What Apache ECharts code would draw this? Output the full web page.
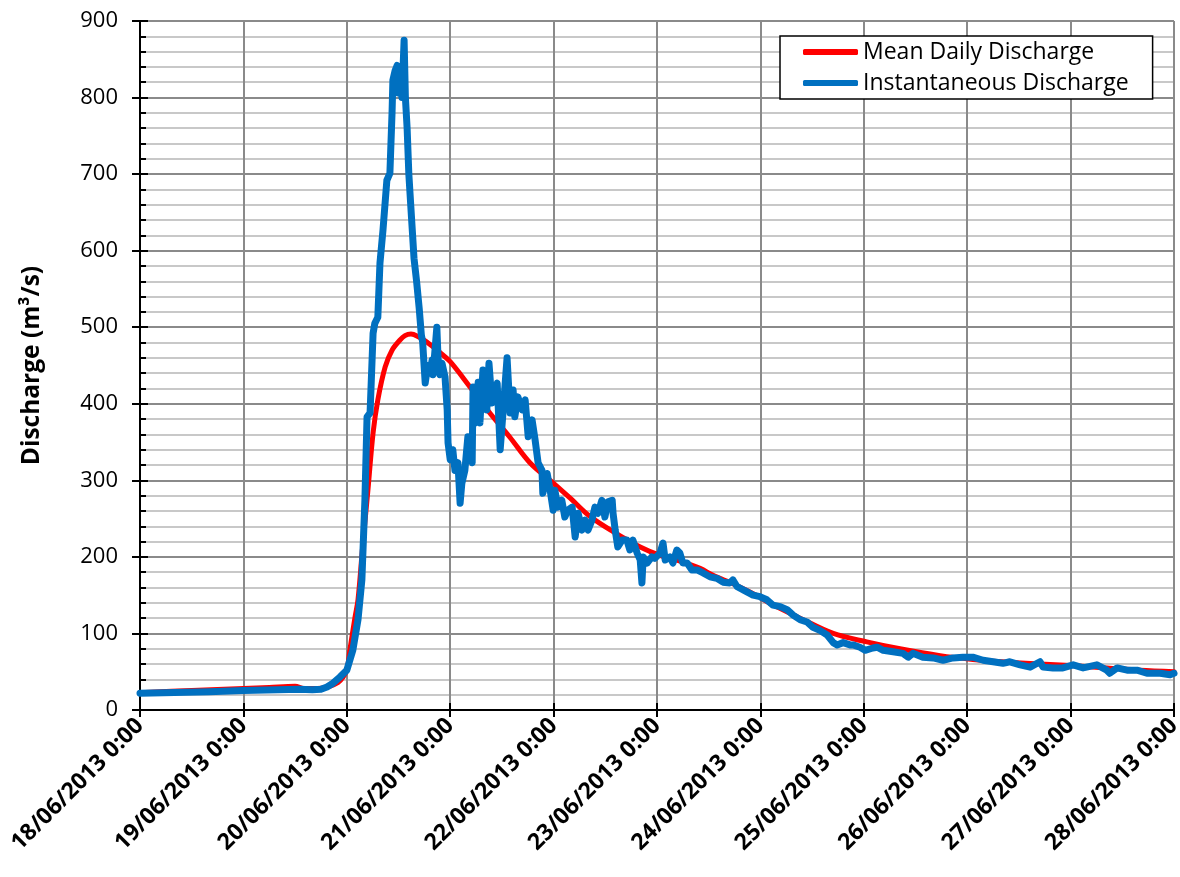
<!DOCTYPE html>
<html>
<head>
<meta charset="utf-8">
<script src="https://cdn.jsdelivr.net/npm/echarts@6/dist/echarts.min.js"></script>
<style>
  html, body { margin: 0; padding: 0; background: #fff; }
  #chart { width: 1180px; height: 877px; }
</style>
</head>
<body>
<div id="chart"></div>
<script>
// Date labels for the daily ticks (one every 24 h)
const tickLabels = [
  '18/06/2013 0:00', '19/06/2013 0:00', '20/06/2013 0:00', '21/06/2013 0:00',
  '22/06/2013 0:00', '23/06/2013 0:00', '24/06/2013 0:00', '25/06/2013 0:00',
  '26/06/2013 0:00', '27/06/2013 0:00', '28/06/2013 0:00'
];

// [hours since 18/06/2013 0:00, discharge m³/s]
const meanDailyDischarge = [
  [0, 22.5], [12, 25.5], [24, 28], [30, 29.5], [36, 31], [38, 28], [42, 28.5], [44, 31],
  [46, 36], [47, 42], [48, 52], [48.7, 78], [49.9, 121], [50.6, 144], [51.7, 215],
  [52.9, 287], [54.1, 362], [55.2, 405], [56.9, 448], [58.5, 470], [60.3, 483],
  [61.5, 489], [62.9, 491], [64.5, 488], [66.5, 481], [69.6, 467], [72, 455],
  [76.6, 422], [81.2, 388], [85.9, 356], [90.5, 323], [95.2, 300], [99.8, 277],
  [104.4, 253], [109.8, 233], [116.1, 213], [120.7, 202], [125, 195], [130, 185],
  [133, 176], [138, 164], [143, 150], [146, 140], [153.2, 120], [160.9, 100],
  [168.7, 89], [176.4, 80], [185.7, 71], [193.3, 66], [200, 63], [208.9, 60],
  [216, 58], [224.4, 55], [232, 52], [240, 50]
];

const instantaneousDischarge = [
  [0, 22], [8, 23], [16, 24], [24, 25.5], [32, 26.3], [37, 27], [40, 26.5], [42, 27],
  [43.4, 30], [44.8, 35], [46.4, 43], [48, 52], [49.4, 78], [50.6, 118], [51.5, 170],
  [52.2, 274], [52.7, 383], [53.4, 388], [54.1, 492], [54.5, 505], [55.2, 513],
  [55.7, 584], [56.4, 627], [57.3, 692], [58, 701], [58.5, 780], [58.7, 823],
  [59.2, 835], [59.7, 842], [59.9, 806], [60.3, 832], [60.8, 800], [61.3, 875],
  [61.6, 800], [62, 760], [62.4, 700], [63, 645], [63.6, 590], [64.2, 560],
  [64.8, 525], [65.3, 490], [65.6, 481], [66.2, 427], [66.8, 450], [67.3, 440],
  [67.8, 457], [68, 438], [68.9, 500], [69.2, 457], [69.6, 438], [70.1, 453],
  [70.8, 435], [71.3, 392], [71.5, 349], [72, 327], [72.6, 340], [73.1, 313],
  [73.8, 323], [74.3, 270], [74.7, 296], [75.4, 313], [76.1, 357], [76.6, 330],
  [77.1, 323], [77.3, 422], [77.8, 375], [78.5, 428], [78.9, 375], [79.6, 444],
  [80.5, 392], [81, 453], [81.7, 401], [82.9, 427], [83.6, 340], [84.3, 392],
  [85.2, 460], [85.9, 388], [86.6, 418], [87, 383], [87.7, 409], [88.7, 392],
  [89.4, 405], [90.1, 357], [91, 379], [91.7, 353], [92.4, 323], [93.3, 313],
  [93.5, 283], [94.5, 309], [95.2, 287], [95.9, 261], [96.3, 287], [97, 265],
  [97.9, 274], [98.6, 252], [99.3, 261], [100.3, 265], [101, 226], [101.7, 257],
  [102.6, 235], [103.3, 248], [104, 235], [104.9, 248], [105.6, 265], [106.3, 257],
  [107.2, 274], [107.9, 252], [108.6, 272], [109.6, 274], [109.8, 257], [110.3, 235],
  [110.9, 213], [111.9, 222], [113, 222], [113.7, 209], [114.4, 222], [115.4, 205],
  [116.1, 196], [116.5, 166], [116.8, 200], [117.7, 192], [118.8, 200], [119.5, 198],
  [120.7, 205], [121.4, 218], [121.9, 196], [123, 200], [123.7, 192], [124.6, 209],
  [125.3, 205], [126, 192], [127, 192], [128.1, 183], [129.3, 183], [130.7, 179],
  [132.3, 174], [133.9, 172], [135.3, 167], [136.9, 166], [137.6, 170], [138.6, 161],
  [140, 157], [142.3, 150], [143.9, 148], [145.5, 144], [146.9, 137], [148.6, 135],
  [150.2, 131], [151.6, 124], [153.2, 118], [154.8, 115], [156.2, 108], [157.8, 104],
  [159.5, 98], [160.9, 88], [161.8, 85], [163.2, 88], [164.8, 85], [165.5, 85],
  [167.1, 82], [168.3, 78], [170.1, 81], [171.1, 82], [172.5, 78], [174.8, 76],
  [177.1, 74], [178.3, 69], [179.4, 74], [181.7, 69], [184.1, 68], [186.4, 65],
  [188.7, 68], [191, 69], [193.3, 69], [195.7, 65], [198, 63], [200.3, 61],
  [201.9, 63], [204.3, 59], [206.6, 56], [208.9, 63], [209.6, 56], [211.9, 55],
  [214.2, 55], [216.6, 59], [218.9, 55], [222.1, 59], [224.4, 52], [225.1, 48],
  [226.8, 55], [229.1, 52], [231.4, 52], [233.7, 48], [236.8, 48], [239.1, 46], [240, 48]
];

const FONT = 'Open Sans';
const chart = echarts.init(document.getElementById('chart'), null, { renderer: 'canvas' });

const xRange = { type: 'value', min: 0, max: 240, interval: 24, gridIndex: 0, position: 'bottom' };
const yRange = { type: 'value', min: 0, max: 900, interval: 100, gridIndex: 0, position: 'left' };

chart.setOption({
  animation: false,
  backgroundColor: '#fff',
  grid: { left: 140, right: 6, top: 21, bottom: 167, outerBoundsMode: 'none' },
  legend: {
    orient: 'vertical',
    left: 780, top: 36,
    backgroundColor: '#fff',
    borderColor: '#000', borderWidth: 1.5, borderRadius: 0,
    padding: [2, 24, 2, 23],
    itemWidth: 55, itemHeight: 6, itemGap: 3, itemTextGap: 4, icon: 'roundRect',
    textStyle: { fontFamily: FONT, fontSize: 23, color: '#000', lineHeight: 28 },
    data: ['Mean Daily Discharge', 'Instantaneous Discharge']
  },
  xAxis: [
    Object.assign({}, xRange, {
      axisLine: { show: true, onZero: false, lineStyle: { color: '#000', width: 2 } },
      axisTick: { show: true, inside: true, length: 7, lineStyle: { color: '#000', width: 2 } },
      axisLabel: {
        rotate: 45, margin: 12, fontFamily: FONT, fontWeight: 'bold', fontSize: 23, color: '#000',
        formatter: v => tickLabels[Math.round(v / 24)]
      },
      splitLine: { show: true, lineStyle: { color: '#8a8a8a', width: 2 } }
    }),
    Object.assign({}, xRange, {
      axisLine: { show: true, onZero: false, lineStyle: { color: '#000', width: 2 } },
      axisTick: { show: true, inside: false, length: 7, lineStyle: { color: '#000', width: 2 } },
      axisLabel: { show: false },
      splitLine: { show: false }
    })
  ],
  yAxis: [
    Object.assign({}, yRange, {
      name: 'Discharge (m³/s)',
      nameLocation: 'middle', nameGap: 95,
      nameTextStyle: { fontFamily: FONT, fontWeight: 'bold', fontSize: 24.5, color: '#000' },
      axisLine: { show: true, onZero: false, lineStyle: { color: '#000', width: 2 } },
      axisTick: { show: true, inside: true, length: 8, lineStyle: { color: '#000', width: 2 } },
      minorTick: { show: true, splitNumber: 5, length: 6, lineStyle: { color: '#000', width: 2 } },
      axisLabel: { margin: 22, fontFamily: FONT, fontSize: 22, color: '#000' },
      splitLine: { show: true, lineStyle: { color: '#8a8a8a', width: 2 } },
      minorSplitLine: { show: true, lineStyle: { color: '#c8c8c8', width: 2 } }
    }),
    Object.assign({}, yRange, {
      axisLine: { show: true, onZero: false, lineStyle: { color: '#000', width: 2 } },
      axisTick: { show: true, inside: false, length: 8, lineStyle: { color: '#000', width: 2 } },
      axisLabel: { show: false },
      splitLine: { show: false }
    })
  ],
  series: [
    {
      name: 'Mean Daily Discharge',
      type: 'line',
      xAxisIndex: 0, yAxisIndex: 0,
      data: meanDailyDischarge,
      smooth: 0.35,
      showSymbol: false, symbol: 'none',
      color: '#ff0000',
      lineStyle: { color: '#ff0000', width: 5, cap: 'round', join: 'round' },
      z: 2
    },
    {
      name: 'Instantaneous Discharge',
      type: 'line',
      xAxisIndex: 0, yAxisIndex: 0,
      data: instantaneousDischarge,
      showSymbol: false, symbol: 'none',
      color: '#0070c0',
      lineStyle: { color: '#0070c0', width: 7, cap: 'round', join: 'round' },
      z: 3
    }
  ]
});
</script>
</body>
</html>
